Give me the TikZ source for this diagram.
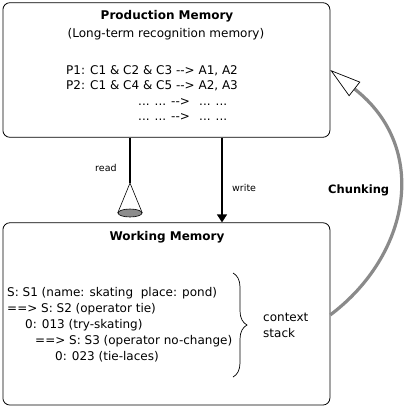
\documentclass[tikz,border=0pt]{standalone}
\usepackage{fontspec}
\newfontfamily\genevafont{DejaVu Sans}
\usetikzlibrary{arrows.meta,decorations.pathreplacing,shapes.geometric}
\definecolor{Dither}{HTML}{8A8A8A}
\tikzset{
  membox/.style={draw,rounded corners=7pt,line width=.8pt,minimum width=327pt,inner sep=0pt},
  title/.style={font=\genevafont\bfseries\fontsize{12}{14}\selectfont},
  small/.style={font=\genevafont\fontsize{9.5}{11}\selectfont},
  flow/.style={line width=1.6pt},
  chunkline/.style={line width=3.2pt,draw=Dither,
    -{Triangle[length=31pt,width=18pt,fill=white,color=black,line width=.7pt]}},
}
\newcommand{\stackline}[4]{%
  \node[anchor=base west,inner sep=0pt] (#1) at (#2,#3) {#4};
}

\begin{document}
\begin{tikzpicture}[x=1pt,y=-1pt,font=\genevafont\fontsize{12}{14}\selectfont]
\path[use as bounding box] (0,0) rectangle (419,410);
\node[membox,minimum height=134.6pt] (prodmem) at (166.4,70) {};
\node[membox,minimum height=182.3pt] (workmem) at (166.4,313.9) {};

\node[title,anchor=base,inner sep=0pt] (prodtitle) at (167,19.5) {Production Memory};
\node[anchor=base,inner sep=0pt] (prodsub) at (166,37) {(Long-term recognition memory)};
\stackline{rule1}{66}{74.5}{P1: C1 \& C2 \& C3 --> A1, A2}
\stackline{rule2}{66}{89.5}{P2: C1 \& C4 \& C5 --> A2, A3}
\stackline{rule3a}{138}{105}{... ...}
\stackline{rule3b}{171}{105}{-->}
\stackline{rule3c}{199}{105}{... ...}
\stackline{rule4a}{138}{120}{... ...}
\stackline{rule4b}{171}{120}{-->}
\stackline{rule4c}{199}{120}{... ...}

\node[title,anchor=base,inner sep=0pt] (worktitle) at (167,240) {Working Memory};
\stackline{state1}{7}{296}{S: S1 (name: skating\ \ place: pond)}
\stackline{state2}{7}{312}{==> S: S2 (operator tie)}
\stackline{op13}{25}{328}{0: 013 (try-skating)}
\stackline{state3}{35}{344}{==> S: S3 (operator no-change)}
\stackline{op23}{55}{360}{0: 023 (tie-laces)}
\draw[line width=.7pt,decorate,decoration={brace,amplitude=14pt}] (233,273) -- (233,377);
\stackline{ctx}{263}{321.5}{context}
\stackline{stk}{263}{337}{stack}

% read and write
\coordinate (cone) at (130,183);
\node[draw,ellipse,fill=black!45,line width=.6pt,minimum width=24pt,minimum height=8pt,inner sep=0pt] (cup) at (130,213) {};
\draw[flow] ([xshift=-36.4pt]prodmem.south) -- (cone);
\draw[line width=.6pt] (cup.west) -- (cone) -- (cup.east);
\node[small,anchor=base west,inner sep=0pt] (readlbl) at (95,171.5) {read};
\draw[flow,-{Triangle[length=8pt,width=10pt]}] ([xshift=55.6pt]prodmem.south) -- ([xshift=55.6pt]workmem.north);
\node[small,anchor=base west,inner sep=0pt] (writelbl) at (232,191.5) {write};

% chunking
\draw[chunkline] ([yshift=-1pt]workmem.east) .. controls (410,255) and (430,148) .. (prodmem.east);
\node[title,anchor=base west,inner sep=0pt,font=\genevafont\bfseries\fontsize{11.5}{13}\selectfont] (chunklbl) at (328,193.5) {Chunking};
\end{tikzpicture}
\end{document}
